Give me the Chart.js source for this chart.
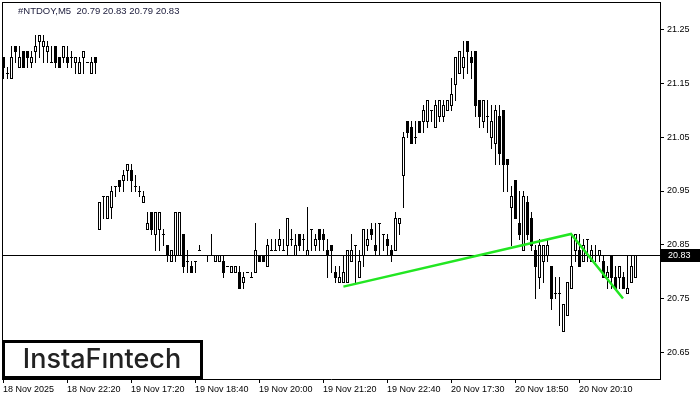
<!DOCTYPE html>
<html><head><meta charset="utf-8">
<script src="https://cdn.jsdelivr.net/npm/chart.js@4.4.1/dist/chart.umd.min.js"></script>
<style>html,body{margin:0;padding:0;background:#fff;}canvas{display:block;}</style>
</head><body>
<canvas id="c" width="700" height="400"></canvas>
<script>
const symbolTitle = '#NTDOY,M5  20.79 20.83 20.79 20.83';
const logoText = 'InstaFıntech';

const opens = [
21.20,21.17,21.16,21.22,21.18,21.21,21.21,21.19,21.21,21.23,
21.22,21.21,21.19,21.22,21.20,21.20,21.20,21.20,21.19,21.17,
21.20,21.19,21.17,21.20,20.88,20.94,20.90,20.92,20.96,20.97,
20.97,20.99,20.99,20.96,20.95,20.93,20.88,20.91,20.87,20.88,
20.87,20.85,20.82,20.83,20.83,20.87,20.82,20.81,20.82,20.84,
20.83,20.83,20.83,20.82,20.82,20.82,20.81,20.80,20.80,20.80,
20.78,20.80,20.79,20.80,20.83,20.83,20.81,20.84,20.84,20.85,
20.84,20.85,20.86,20.83,20.87,20.86,20.83,20.88,20.85,20.88,
20.87,20.84,20.85,20.80,20.78,20.78,20.78,20.82,20.85,20.79,
20.83,20.85,20.88,20.85,20.89,20.87,20.86,20.84,20.84,20.89,
20.98,21.08,21.07,21.05,21.08,21.08,21.08,21.10,21.07,21.09,
21.09,21.10,21.11,21.15,21.17,21.18,21.23,21.20,21.21,21.12,
21.08,21.09,21.05,21.04,21.09,21.10,21.01,20.92,20.97,20.89,
20.84,20.93,20.90,20.84,20.79,20.82,20.83,20.81,20.76,20.76,
20.69,20.72,20.77,20.84,20.84,20.82,20.86,20.82,20.83,20.83,
20.82,20.79,20.83,20.79,20.79,20.79,20.76,20.78,20.79];
const highs = [
21.20,21.18,21.22,21.22,21.22,21.21,21.21,21.21,21.24,21.24,
21.24,21.23,21.22,21.22,21.20,21.22,21.22,21.21,21.20,21.20,
21.21,21.19,21.20,21.20,20.93,20.94,20.94,20.96,20.96,20.97,
20.99,21.00,21.00,20.98,20.96,20.95,20.91,20.91,20.91,20.91,
20.88,20.85,20.84,20.91,20.91,20.87,20.84,20.82,20.82,20.85,
20.83,20.83,20.87,20.83,20.83,20.83,20.81,20.81,20.81,20.81,
20.80,20.80,20.80,20.89,20.83,20.83,20.86,20.86,20.86,20.88,
20.86,20.90,20.88,20.87,20.87,20.87,20.92,20.88,20.87,20.88,
20.88,20.86,20.85,20.81,20.81,20.83,20.84,20.87,20.85,20.84,
20.88,20.88,20.89,20.89,20.89,20.87,20.87,20.85,20.91,20.90,
21.06,21.08,21.08,21.08,21.08,21.11,21.12,21.10,21.12,21.12,
21.12,21.12,21.16,21.20,21.21,21.23,21.23,21.21,21.21,21.12,
21.12,21.12,21.11,21.11,21.11,21.10,21.01,20.96,20.97,20.95,
20.95,20.94,20.91,20.85,20.86,20.85,20.86,20.81,20.79,20.79,
20.74,20.78,20.87,20.87,20.87,20.86,20.86,20.85,20.85,20.84,
20.83,20.81,20.83,20.81,20.81,20.80,20.83,20.83,20.83];
const lows = [
21.16,21.16,21.16,21.19,21.18,21.18,21.18,21.18,21.19,21.20,
21.19,21.19,21.19,21.18,21.18,21.19,21.18,21.18,21.17,21.17,
21.17,21.19,21.17,21.17,20.88,20.90,20.90,20.90,20.94,20.95,
20.95,20.97,20.95,20.95,20.94,20.93,20.88,20.87,20.84,20.84,
20.85,20.82,20.82,20.82,20.83,20.80,20.80,20.80,20.80,20.84,
20.83,20.82,20.83,20.82,20.82,20.79,20.81,20.80,20.80,20.77,
20.77,20.80,20.79,20.80,20.82,20.82,20.81,20.84,20.84,20.84,
20.84,20.83,20.85,20.83,20.84,20.84,20.83,20.84,20.84,20.84,
20.84,20.79,20.80,20.78,20.78,20.78,20.78,20.82,20.78,20.79,
20.81,20.84,20.86,20.83,20.83,20.84,20.83,20.82,20.84,20.87,
20.92,21.05,21.04,21.04,21.06,21.06,21.07,21.08,21.07,21.08,
21.08,21.10,21.10,21.12,21.17,21.16,21.17,21.16,21.09,21.07,
21.07,21.06,21.03,21.00,21.00,20.95,20.95,20.85,20.90,20.86,
20.84,20.86,20.84,20.75,20.77,20.78,20.82,20.73,20.75,20.70,
20.69,20.72,20.77,20.82,20.81,20.82,20.82,20.82,20.82,20.82,
20.79,20.77,20.77,20.77,20.77,20.77,20.76,20.78,20.79];
const closes = [
21.18,21.17,21.20,21.21,21.20,21.18,21.20,21.20,21.22,21.24,
21.23,21.22,21.19,21.19,21.18,21.22,21.19,21.20,21.20,21.19,
21.21,21.19,21.19,21.19,20.93,20.94,20.94,20.95,20.96,20.96,
20.98,21.00,20.97,20.96,20.95,20.94,20.89,20.88,20.91,20.91,
20.87,20.83,20.84,20.91,20.91,20.81,20.82,20.80,20.82,20.84,
20.83,20.83,20.83,20.83,20.83,20.80,20.81,20.81,20.81,20.77,
20.79,20.80,20.79,20.84,20.82,20.82,20.85,20.84,20.84,20.86,
20.84,20.90,20.86,20.85,20.85,20.86,20.84,20.88,20.86,20.86,
20.86,20.83,20.84,20.79,20.79,20.80,20.84,20.84,20.85,20.82,
20.88,20.86,20.87,20.84,20.89,20.87,20.85,20.83,20.90,20.90,
21.05,21.06,21.04,21.05,21.06,21.10,21.12,21.10,21.11,21.12,
21.11,21.12,21.13,21.20,21.21,21.20,21.21,21.19,21.11,21.09,
21.12,21.09,21.08,21.10,21.02,21.00,21.00,20.94,20.90,20.87,
20.94,20.87,20.85,20.81,20.85,20.85,20.85,20.75,20.76,20.76,
20.74,20.78,20.81,20.87,20.81,20.85,20.86,20.84,20.83,20.84,
20.79,20.80,20.79,20.77,20.81,20.77,20.77,20.81,20.83];

const timeTickIndex = [0,16,32,48,64,80,96,112,128,144];
const timeTickLabels = ['18 Nov 2025','18 Nov 22:20','19 Nov 17:20','19 Nov 18:40','19 Nov 20:00','19 Nov 21:20','19 Nov 22:40','20 Nov 17:30','20 Nov 18:50','20 Nov 20:10'];
const priceTicks = [20.65,20.75,20.85,20.95,21.05,21.15,21.25];
const patternBars = [85.1, 142, 155];
const patternPrices = [20.772, 20.870, 20.750];
const lastPrice = closes[closes.length - 1];

const AXIS_FONT = {family:'Liberation Sans', size:9};

const candlePlugin = {
  id: 'candles',
  beforeDatasetsDraw(chart) {
    const {ctx, scales:{x, y}, chartArea:a} = chart;
    ctx.save();
    ctx.beginPath(); ctx.rect(a.left, a.top, a.right - a.left, a.bottom - a.top); ctx.clip();
    for (let i = 0; i < opens.length; i++) {
      const px = Math.round(x.getPixelForValue(i));
      const yh = Math.round(y.getPixelForValue(highs[i]));
      const yl = Math.round(y.getPixelForValue(lows[i]));
      const yo = Math.round(y.getPixelForValue(opens[i]));
      const yc = Math.round(y.getPixelForValue(closes[i]));
      ctx.fillStyle = '#000';
      ctx.fillRect(px, yh, 1, yl - yh + 1);
      const top = Math.min(yo, yc), bot = Math.max(yo, yc);
      ctx.fillRect(px - 1, top, 3, bot - top + 1);
      if (closes[i] > opens[i] && bot - top >= 2) {
        ctx.fillStyle = '#fff';
        ctx.fillRect(px, top + 1, 1, bot - top - 1);
      }
    }
    const yp = Math.round(y.getPixelForValue(lastPrice));
    ctx.fillStyle = '#000';
    ctx.fillRect(a.left, yp, a.right - a.left, 1);
    ctx.restore();
  },
  afterDraw(chart) {
    const {ctx, scales:{y}, chartArea:a} = chart;
    ctx.save();
    ctx.fillStyle = '#000';
    ctx.fillRect(a.left, a.top - 1, a.right - a.left + 1, 1);
    ctx.fillRect(a.left, a.top - 1, 1, a.bottom - a.top + 1);
    ctx.font = '9.5px "Liberation Sans"';
    ctx.fillStyle = '#1a1a3a';
    ctx.textBaseline = 'alphabetic';
    ctx.textAlign = 'left';
    ctx.fillText(symbolTitle, 18, 14);
    const yp = Math.round(y.getPixelForValue(lastPrice));
    ctx.fillStyle = '#000';
    ctx.fillRect(a.right + 1, yp - 6, 700 - a.right - 1, 13);
    ctx.fillStyle = '#fff';
    ctx.font = '9px "Liberation Sans"';
    ctx.textBaseline = 'middle';
    ctx.fillText(lastPrice.toFixed(2), a.right + 8, yp + 0.5);
    ctx.fillStyle = '#000';
    ctx.fillRect(2, 340, 201, 39);
    ctx.fillStyle = '#fff';
    ctx.fillRect(5, 343, 195, 33);
    ctx.fillStyle = '#222';
    ctx.font = '500 27px Inter';
    ctx.textAlign = 'center';
    ctx.textBaseline = 'alphabetic';
    ctx.fillText(logoText, 102, 368);
    ctx.restore();
  }
};

new Chart(document.getElementById('c'), {
  type: 'line',
  data: {
    datasets: [{
      label: 'pattern',
      data: patternBars.map((v, k) => ({x: v, y: patternPrices[k]})),
      borderColor: '#22e622',
      borderWidth: 2.5,
      pointRadius: 0,
      tension: 0,
      fill: false
    }]
  },
  options: {
    responsive: false,
    animation: false,
    devicePixelRatio: 1,
    layout: {padding: {left: 2, top: 3, right: 0, bottom: 0}},
    plugins: {legend: {display: false}, tooltip: {enabled: false}},
    scales: {
      x: {
        type: 'linear', position: 'bottom', min: -0.25, max: 164.25,
        afterBuildTicks: s => { s.ticks = timeTickIndex.map(v => ({value: v})); },
        afterFit: s => { s.height = 21; s.paddingLeft = 0; s.paddingRight = 0; },
        grid: {drawOnChartArea: false, drawTicks: true, tickLength: 4, color: '#000'},
        border: {display: true, color: '#000'},
        ticks: {
          autoSkip: false, maxRotation: 0, minRotation: 0, align: 'start', padding: 1,
          color: '#000', font: AXIS_FONT,
          callback: v => { const k = timeTickIndex.indexOf(v); return k >= 0 ? timeTickLabels[k] : ''; }
        }
      },
      y: {
        type: 'linear', position: 'right', min: 20.60, max: 21.30,
        afterBuildTicks: s => { s.ticks = priceTicks.map(v => ({value: v})); },
        afterFit: s => { s.width = 40; s.paddingTop = 0; s.paddingBottom = 0; },
        grid: {drawOnChartArea: false, drawTicks: true, tickLength: 4, color: '#000'},
        border: {display: true, color: '#000'},
        ticks: {padding: 3, color: '#000', font: AXIS_FONT, callback: v => Number(v).toFixed(2)}
      }
    }
  },
  plugins: [candlePlugin]
});
</script>
</body></html>
